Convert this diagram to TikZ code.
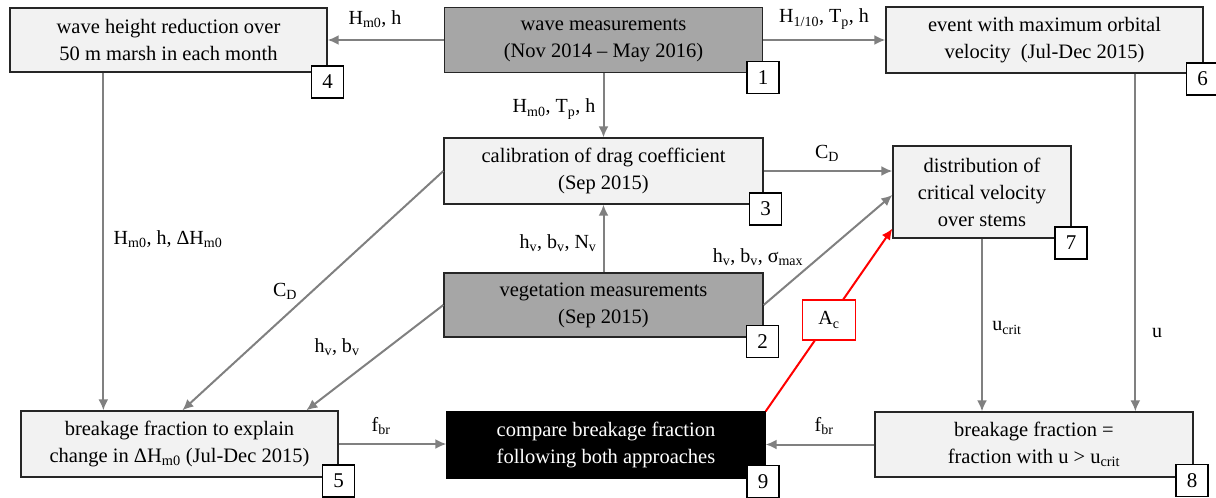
\documentclass[tikz,border=0pt]{standalone}
\usepackage{fontspec}
\setmainfont{Liberation Serif}
\usetikzlibrary{arrows.meta,calc}
\definecolor{lightbox}{HTML}{F2F2F2}
\definecolor{darkbox}{HTML}{A6A6A6}
\definecolor{edgecol}{HTML}{262626}
\definecolor{arrowcol}{HTML}{808080}
\definecolor{redcol}{HTML}{FF0000}
\begin{document}
\begin{tikzpicture}[x=1pt,y=-1pt,
  box/.style={draw=edgecol, line width=1.3pt, fill=lightbox, align=center,
    font=\fontsize{20.5}{27}\selectfont, inner sep=0pt},
  darkb/.style={box, fill=darkbox},
  blackb/.style={box, fill=black, draw=black, text=white},
  numbox/.style={draw=black, line width=1.3pt, fill=white, minimum width=32pt,
    minimum height=32pt, inner sep=0pt, font=\fontsize{21}{22}\selectfont},
  lbl/.style={font=\fontsize{20}{22}\selectfont, inner sep=0pt},
  conn/.style={draw=arrowcol, line width=2pt, -{Latex[length=11pt,width=10pt]}},
  redconn/.style={draw=redcol, line width=2pt, -{Latex[length=11pt,width=10pt]}},
  acbox/.style={draw=redcol, line width=1.6pt, fill=white, minimum width=53pt,
    minimum height=40pt, inner sep=0pt, font=\fontsize{20}{22}\selectfont},
]
\useasboundingbox (0,0) rectangle (1216,498);

% main boxes
\node[box,    minimum width=317pt, minimum height=64pt] (B4) at (168.5,40) {wave height reduction over\\50 m marsh in each month};
\node[darkb,  minimum width=318pt, minimum height=65pt] (B1) at (603.5,40) {wave measurements\\(Nov 2014 -- May 2016)};
\node[box,    minimum width=317pt, minimum height=66pt] (B6) at (1044.5,40) {event with maximum orbital\\velocity~~(Jul-Dec 2015)};
\node[box,    minimum width=319pt, minimum height=66pt] (B3) at (603.5,171) {calibration of drag coefficient\\(Sep 2015)};
\node[darkb,  minimum width=319pt, minimum height=64pt] (B2) at (603.5,305) {vegetation measurements\\(Sep 2015)};
\node[box,    minimum width=178pt, minimum height=92pt] (B7) at (982,192) {distribution of\\critical velocity\\over stems};
\node[box,    minimum width=317pt, minimum height=66pt] (B5) at (179.5,444) {breakage fraction to explain\\change in ΔH\textsubscript{m0} (Jul-Dec 2015)};
\node[blackb, minimum width=318pt, minimum height=66pt] (B9) at (606,445) {compare breakage fraction\\following both approaches};
\node[box,    minimum width=318pt, minimum height=65pt] (B8) at (1034,444.5) {breakage fraction =\\fraction with u {\textgreater} u\textsubscript{crit}};

% connectors
\draw[conn] (B1.west) -- (B4.east);
\draw[conn] (B1.east) -- (B6.west);
\draw[conn] (B1.south) -- (B3.north);
\draw[conn] (B2.north) -- (B3.south);
\draw[conn] (B3.east) -- (B3.east -| B7.west);
\draw[conn] (B2.east) -- ($(B7.west)+(0,3)$);
\draw[conn] (B3.west) -- ($(B5.north west)+(162,0)$);
\draw[conn] (B2.west) -- ($(B5.north west)+(286,0)$);
\draw[conn] ($(B4.south west)+(94,0)$) coordinate (c45) -- (c45 |- B5.north);
\draw[conn] (B5.east) -- (B5.east -| B9.west);
\draw[conn] (B8.west) -- (B8.west -| B9.east);
\draw[conn] (B7.south) -- (B7.south |- B8.north);
\draw[conn] ($(B6.south west)+(250,0)$) coordinate (c68) -- (c68 |- B8.north);
\draw[redconn] (B9.north east) -- node[acbox] (Ac) {A\textsubscript{c}} ($(B7.south west)+(0,-10)$);

% labels
\node[lbl] (L14) at (375,19) {H\textsubscript{m0}, h};
\node[lbl] (L16) at (824,19) {H\textsubscript{1/10}, T\textsubscript{p}, h};
\node[lbl] (L13) at (554,109) {H\textsubscript{m0}, T\textsubscript{p}, h};
\node[lbl] (L23) at (558,243) {h\textsubscript{v}, b\textsubscript{v}, N\textsubscript{v}};
\node[lbl] (L37) at (827,153) {C\textsubscript{D}};
\node[lbl] (L27) at (758,257) {h\textsubscript{v}, b\textsubscript{v}, σ\textsubscript{max}};
\node[lbl] (L35) at (285,291) {C\textsubscript{D}};
\node[lbl] (L25) at (337,347) {h\textsubscript{v}, b\textsubscript{v}};
\node[lbl] (L45) at (168,239) {H\textsubscript{m0}, h, ΔH\textsubscript{m0}};
\node[lbl] (L59) at (381,426) {f\textsubscript{br}};
\node[lbl] (L89) at (824,426) {f\textsubscript{br}};
\node[lbl] (L78) at (1007,328) {u\textsubscript{crit}};
\node[lbl] (L68) at (1157,333) {u};

% number boxes
\node[numbox] (N4) at (327.5,82) {4};
\node[numbox] (N1) at (763,77.5) {1};
\node[numbox] (N6) at (1202.5,79) {6};
\node[numbox] (N3) at (765.5,209) {3};
\node[numbox] (N2) at (762.5,341.5) {2};
\node[numbox] (N7) at (1071,243) {7};
\node[numbox] (N5) at (338.5,481) {5};
\node[numbox] (N9) at (763,481.5) {9};
\node[numbox] (N8) at (1192,480.5) {8};
\end{tikzpicture}
\end{document}
